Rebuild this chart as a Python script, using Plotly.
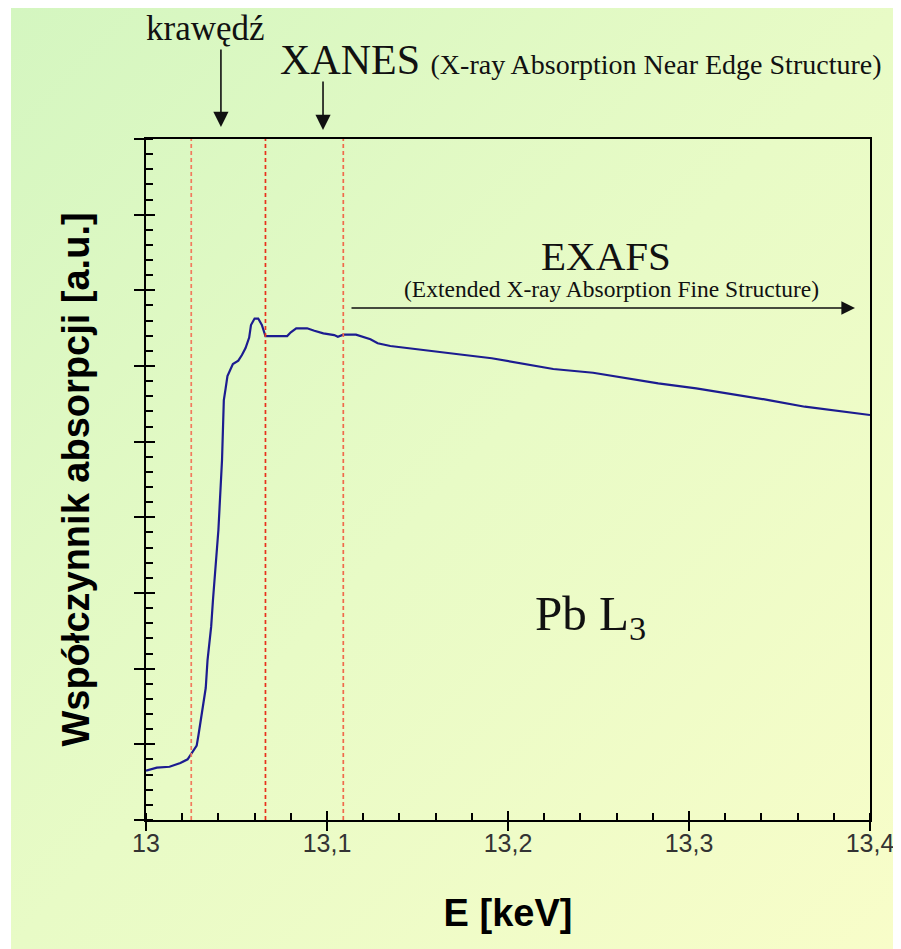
import base64
import plotly.graph_objects as go

# ---- data ----
energy_keV = [13.000, 13.006, 13.013, 13.019, 13.023, 13.025, 13.028, 13.029, 13.031, 13.033,
              13.034, 13.036, 13.037, 13.040, 13.042, 13.043, 13.044, 13.045, 13.048, 13.051,
              13.053, 13.055, 13.057, 13.058, 13.060, 13.062, 13.064, 13.066, 13.078, 13.080,
              13.083, 13.089, 13.093, 13.098, 13.104, 13.106, 13.109, 13.116, 13.124, 13.128,
              13.135, 13.146, 13.160, 13.176, 13.191, 13.207, 13.225, 13.247, 13.265, 13.283,
              13.304, 13.324, 13.344, 13.364, 13.385, 13.400]
absorption = [0.652, 0.691, 0.704, 0.753, 0.802, 0.868, 0.982, 1.123, 1.414, 1.744,
              2.114, 2.555, 2.907, 3.832, 4.757, 5.550, 5.705, 5.868, 6.026, 6.070,
              6.145, 6.238, 6.376, 6.542, 6.627, 6.627, 6.542, 6.396, 6.396, 6.445,
              6.498, 6.498, 6.466, 6.432, 6.409, 6.387, 6.414, 6.414, 6.353, 6.300,
              6.264, 6.234, 6.198, 6.145, 6.102, 6.035, 5.960, 5.911, 5.837, 5.771,
              5.705, 5.630, 5.550, 5.462, 5.396, 5.352]

region_bounds = [13.025, 13.066, 13.109]          # dashed boundaries
bound_colors = ["#f27a5e", "#e8321c", "#f06a4c"]
x_tick_vals = [13.0, 13.1, 13.2, 13.3, 13.4]
x_tick_text = ["13", "13,1", "13,2", "13,3", "13,4"]
y_range = [0, 9]

# arrow anchors (energy positions)
edge_arrow_x = 13.0414
xanes_arrow_x = 13.0978
exafs_arrow_x = [13.1127, 13.3917]

SERIF = "Liberation Serif, Times New Roman, serif"
SANS = "Liberation Sans, Arial, sans-serif"

# ---- gradient background ----
svg = ('<svg xmlns="http://www.w3.org/2000/svg" width="100" height="100" viewBox="0 0 100 100" '
       'preserveAspectRatio="none"><defs><linearGradient id="g" x1="0" y1="0" x2="1" y2="1">'
       '<stop offset="0" stop-color="#d4f6c0"/><stop offset="0.5" stop-color="#e8fbc6"/>'
       '<stop offset="1" stop-color="#f8fdc9"/></linearGradient></defs>'
       '<rect width="100" height="100" fill="url(#g)"/></svg>')
bg_uri = "data:image/svg+xml;base64," + base64.b64encode(svg.encode()).decode()

fig = go.Figure()

fig.add_trace(go.Scatter(
    x=energy_keV, y=absorption, mode="lines",
    line=dict(color="#1c1c90", width=2.2),
    showlegend=False, hoverinfo="x+y"))

# helper so the overlay axes (inside half of major ticks) are drawn
fig.add_trace(go.Scatter(x=[], y=[], xaxis="x2", yaxis="y2", showlegend=False))

for b, c in zip(region_bounds, bound_colors):
    fig.add_vline(x=b, line=dict(color=c, width=1.7, dash="4px,3px"), layer="above")

L, R, T, B = 138, 31, 131, 129
W, H = 893, 941
PW, PH = W - L - R, H - T - B

common = dict(showgrid=False, zeroline=False, automargin=False)
fig.update_layout(
    width=W, height=H,
    margin=dict(l=L, r=R, t=T, b=B),
    paper_bgcolor="white",
    plot_bgcolor="rgba(0,0,0,0)",
    separators=", ",
    images=[dict(source=bg_uri, xref="paper", yref="paper",
                 x=(3 - L) / PW, y=(H - B) / PH, sizex=(W - 3) / PW, sizey=H / PH,
                 sizing="stretch", xanchor="left", yanchor="top", layer="below")],
    xaxis=dict(range=[13, 13.4], tickvals=x_tick_vals, ticktext=x_tick_text,
               ticks="outside", ticklen=9, tickwidth=2, tickcolor="black",
               ticklabelstandoff=-9,
               showline=True, linewidth=2, linecolor="black", mirror=True,
               tickfont=dict(family=SANS, size=25, color="#333333"),
               minor=dict(dtick=0.02, tick0=13, ticks="inside", ticklen=7,
                          tickwidth=1.5, tickcolor="black", showgrid=False),
               title=dict(text="<b>E [keV]</b>", standoff=43,
                          font=dict(family=SANS, size=38, color="black")),
               **common),
    xaxis2=dict(range=[13, 13.4], overlaying="x", matches="x", side="bottom",
                tickvals=x_tick_vals, ticks="inside", ticklen=9, tickwidth=2,
                tickcolor="black", showticklabels=False, showline=False, **common),
    yaxis=dict(range=y_range, dtick=1, tick0=0, ticks="outside", ticklen=10,
               tickwidth=2, tickcolor="black", showticklabels=False,
               showline=True, linewidth=2, linecolor="black", mirror=True,
               minor=dict(dtick=0.2, tick0=0, ticks="inside", ticklen=7,
                          tickwidth=1.5, tickcolor="black", showgrid=False),
               title=dict(text="<b>Współczynnik absorpcji [a.u.]</b>", standoff=33,
                          font=dict(family=SANS, size=38, color="black")),
               **common),
    yaxis2=dict(range=y_range, overlaying="y", matches="y", side="left",
                dtick=1, tick0=0, ticks="inside", ticklen=9, tickwidth=2,
                tickcolor="black", showticklabels=False, showline=False, **common),
)

ann = []
# arrows
ann.append(dict(x=edge_arrow_x, y=1.0176, ax=0, ay=-79,
                xref="x", yref="paper", text="",
                showarrow=True, arrowhead=2, arrowsize=1.9, arrowwidth=1.6,
                arrowcolor="#111111"))
ann.append(dict(x=xanes_arrow_x, y=1.0132, ax=0, ay=-50,
                xref="x", yref="paper", text="",
                showarrow=True, arrowhead=2, arrowsize=1.9, arrowwidth=1.6,
                arrowcolor="#111111"))
ann.append(dict(x=exafs_arrow_x[1], y=6.766, ax=exafs_arrow_x[0], ay=6.766,
                xref="x", yref="y", axref="x", ayref="y", text="",
                showarrow=True, arrowhead=2, arrowsize=1.7, arrowwidth=1.6,
                arrowcolor="#111111"))
# texts
ann.append(dict(x=13.0326, y=(H - B) / PH + 1 / PH, xref="x", yref="paper", text="krawędź",
                showarrow=False, xanchor="center", yanchor="top",
                font=dict(family=SERIF, size=35, color="#111111")))
ann.append(dict(x=13.0729, y=1.116, xref="x", yref="paper",
                text="XANES <span style='font-size:28px'>(X-ray Absorption Near Edge Structure)</span>",
                showarrow=False, xanchor="left", yanchor="middle",
                font=dict(family=SERIF, size=42, color="#111111")))
ann.append(dict(x=13.254, y=7.45, xref="x", yref="y", text="EXAFS",
                showarrow=False, xanchor="center", yanchor="middle",
                font=dict(family=SERIF, size=41, color="#111111")))
ann.append(dict(x=13.257, y=7.02, xref="x", yref="y",
                text="(Extended X-ray Absorption Fine Structure)",
                showarrow=False, xanchor="center", yanchor="middle",
                font=dict(family=SERIF, size=23.5, color="#111111")))
ann.append(dict(x=13.2138, y=2.69, xref="x", yref="y", text="Pb L<sub>3</sub>",
                showarrow=False, xanchor="left", yanchor="middle",
                font=dict(family=SERIF, size=49, color="#111111")))
fig.update_layout(annotations=ann)

fig.write_html("out.html")
